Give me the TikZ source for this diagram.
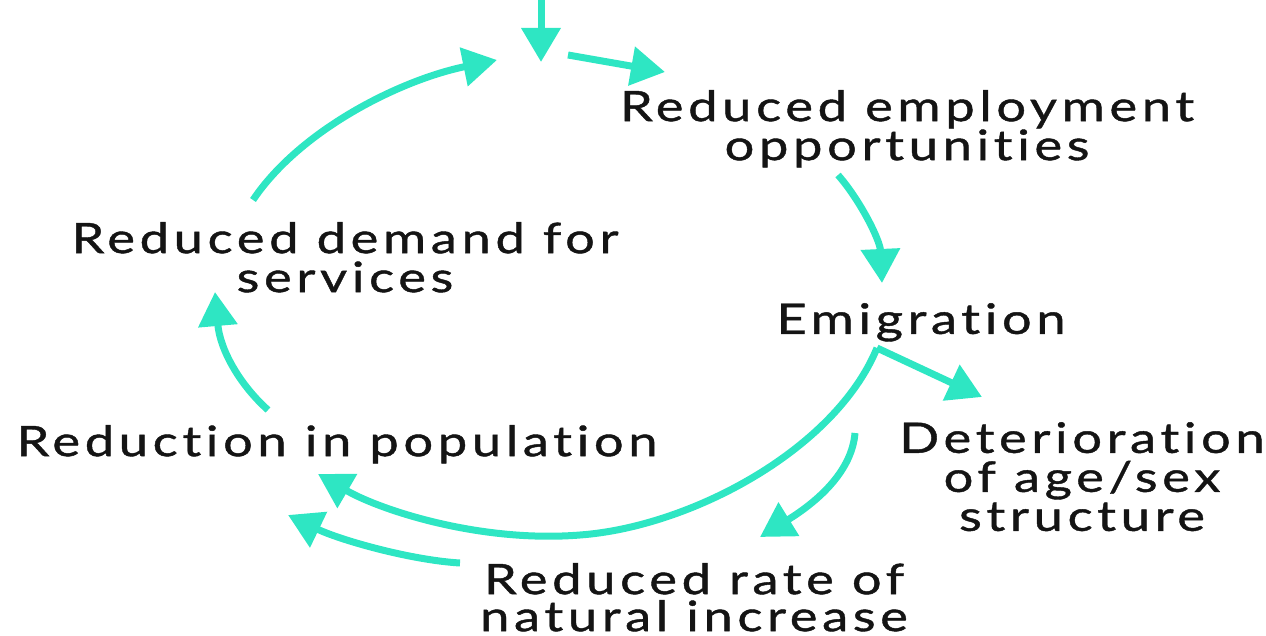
\documentclass[tikz,border=0pt]{standalone}
\usepackage{fontspec}
\setmainfont{Lato}[LetterSpace=11, FakeStretch=1.25, FakeBold=1, Ligatures=NoCommon]
\usepackage{tikz}
\usetikzlibrary{arrows.meta, positioning, calc}
\definecolor{CycleTeal}{HTML}{2EE6C3}
\definecolor{InkBlack}{HTML}{141414}

\begin{document}
\begin{tikzpicture}[x=1pt, y=-1pt,
    stage/.style={font=\fontsize{42}{39}\selectfont, align=center, inner sep=0pt, anchor=north, color=InkBlack},
    flow/.style={line width=7pt, color=CycleTeal, -{Triangle[length=34pt, width=38pt]}}]
    \useasboundingbox (0,0) rectangle (1266,636);

    % stages of the decline cycle
    \node[stage] (emp)  at (907,90)  {Reduced employment\\opportunities};
    \node[stage] (emig) at (921,303) {Emigration};
    \node[stage] (detr) at (1082,422) {Deterioration\\of age/sex\\structure};
    \node[stage, font=\fontsize{42}{37}\selectfont] (rate) at (694,563) {Reduced rate of\\natural increase};
    \node[stage] (popn) at (337,425) {Reduction in population};
    \node[stage] (serv) at (345,222) {Reduced demand for\\services};

    % arrow ends
    \coordinate (entry) at (541,0);
    \coordinate (hub)   at (541,62);
    \coordinate (hubin) at (497,60);
    \coordinate (hubout) at (568,55);
    \coordinate (empin) at (665,72);
    \coordinate (empout) at (838,175);
    \coordinate (emigin) at (882,283);
    \coordinate (fork)  at (877,348);
    \coordinate (detrin) at (982,397);
    \coordinate (popin) at (318,474);
    \coordinate (rateout) at (855,433);
    \coordinate (ratein) at (760,537);
    \coordinate (rate2pop) at (460,563);
    \coordinate (popin2) at (288,515);
    \coordinate (popout) at (268,410);
    \coordinate (servin) at (215,292);
    \coordinate (servout) at (253,200);

    % the cycle
    \draw[flow] (entry) -- (hub);
    \draw[flow] (hubout) -- (empin);
    \draw[flow] (empout) .. controls (860,200) and (880,240) .. (emigin);
    \draw[flow] (fork) -- (detrin);
    \draw[flow] (fork) .. controls (835,450) and (690,527) .. (580,535)
                       .. controls (480,543) and (380,510) .. (popin);
    \draw[flow] (rateout) .. controls (852,470) and (820,500) .. (ratein);
    \draw[flow] (rate2pop) .. controls (410,560) and (340,540) .. (popin2);
    \draw[flow] (popout) .. controls (240,385) and (220,350) .. (servin);
    \draw[flow] (servout) .. controls (300,130) and (400,80) .. (hubin);
\end{tikzpicture}
\end{document}
